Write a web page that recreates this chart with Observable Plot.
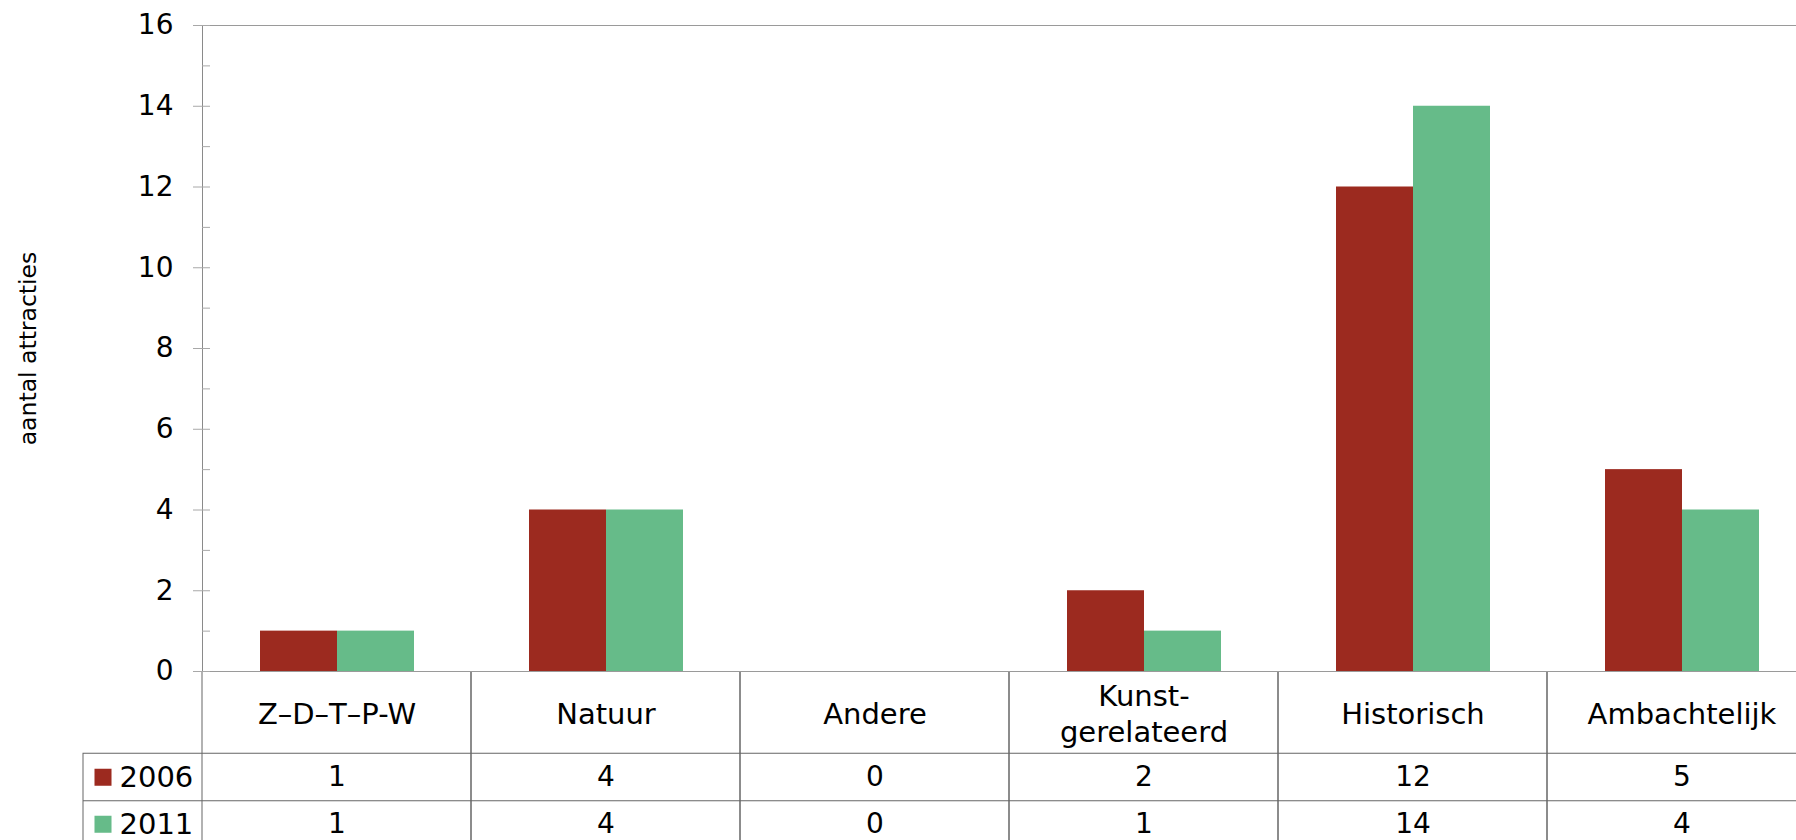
<!DOCTYPE html>
<html><head><meta charset="utf-8">
<script src="https://cdn.jsdelivr.net/npm/d3@7"></script>
<script src="https://cdn.jsdelivr.net/npm/@observablehq/plot@0.6"></script>
<style>
html,body{margin:0;padding:0;background:#fff;overflow:hidden;}
#chart svg{display:block;}
</style></head><body><div id="chart"></div>
<script>
// ---- data ----
const categories = ["Z–D–T–P-W", "Natuur", "Andere", "Kunst-\ngerelateerd", "Historisch", "Ambachtelijk"];
const years = ["2006", "2011"];
const values2006 = [1, 4, 0, 2, 12, 5];
const values2011 = [1, 4, 0, 1, 14, 4];
const yTicks = [0, 2, 4, 6, 8, 10, 12, 14, 16];
const yTitle = "aantal attracties";
const colors = ["#9c2a1f", "#66bb89"];

const seriesValues = [values2006, values2011];
const rows = years.flatMap((year, r) =>
  categories.map((cat, c) => ({cat, year, value: seriesValues[r][c], row: r})));

const font = "'DejaVu Sans', Verdana, sans-serif";
const lineColor = "#666666";

// ---- main bar chart ----
const main = Plot.plot({
  width: 1796, height: 672,
  marginTop: 25, marginBottom: 1, marginLeft: 201, marginRight: -21,
  style: {fontFamily: font, color: "#000", background: "transparent", overflow: "visible"},
  fx: {domain: categories, paddingInner: 0, paddingOuter: 0, axis: null},
  x: {domain: years, paddingInner: 0, paddingOuter: 0.742, axis: null},
  y: {domain: [0, 16], axis: null},
  color: {domain: years, range: colors},
  marks: [
    Plot.barY(rows, {fx: "cat", x: "year", y: "value", fill: "year", inset: 0}),
    Plot.ruleY([0, 16], {stroke: "#9a9a9a"}),
    Plot.frame({anchor: "left", facetAnchor: "left", stroke: "#8a8a8a"}),
    Plot.axisY(d3.range(0, 17), {tickSize: 8, dx: 8, tickFormat: () => "", stroke: "#a8a8a8", label: null}),
    Plot.axisY(yTicks, {tickSize: 9, tickPadding: 20, fontSize: 28, stroke: "#a8a8a8", fill: "#000", label: null}),
    Plot.text([yTitle], {frameAnchor: "left", facetAnchor: "left", textAnchor: "middle", rotate: -90, dx: -174, fontSize: 23.5, fill: "#000"})
  ]
});

// ---- data table below (category header + values + legend) ----
const table = Plot.plot({
  width: 1796, height: 168,
  marginTop: 0, marginBottom: 0, marginLeft: 83, marginRight: 0,
  style: {fontFamily: font, color: "#000", background: "transparent", overflow: "hidden"},
  x: {domain: categories, range: [201, 1817], padding: 0, axis: null},
  y: {domain: [0, 3.75], range: [-1, 175.25], axis: null},
  color: {domain: years, range: colors},
  marks: [
    Plot.barY(categories, {x: d => d, y1: 0, y2: 3.75, fill: "none", stroke: lineColor, inset: 0}),
    Plot.rect([0], {y1: 1.75, y2: 3.75, fill: "none", stroke: lineColor, insetRight: -10}),
    Plot.ruleY([2.75], {stroke: lineColor}),
    Plot.text(categories, {x: d => d, y: 0.875, text: d => d, fontSize: 29, lineHeight: 1.22, lineAnchor: "middle", fill: "#000"}),
    Plot.text(rows, {x: "cat", y: d => 2.25 + d.row, text: "value", fontSize: 28, fill: "#000"}),
    Plot.dot(years, {y: (d, i) => 2.25 + i, frameAnchor: "left", dx: 19.5, symbol: "square", r: 9.6, fill: d => d}),
    Plot.text(years, {y: (d, i) => 2.25 + i, frameAnchor: "left", dx: 36, textAnchor: "start", fontSize: 29, fill: "#000"})
  ]
});

const chart = document.getElementById("chart");
chart.appendChild(main);
chart.appendChild(table);
</script>
</body></html>
